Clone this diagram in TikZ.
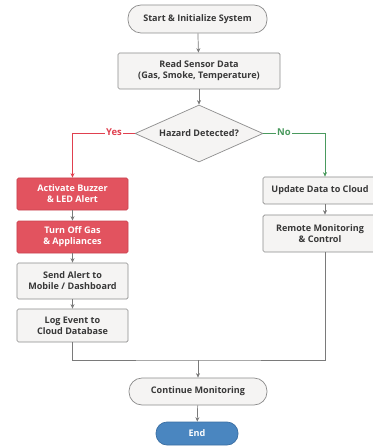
\documentclass[tikz,border=0pt]{standalone}
\usepackage{fontspec}
\setmainfont{Open Sans}
\usetikzlibrary{shapes.geometric,arrows.meta}
\definecolor{boxfill}{HTML}{F5F4F3}
\definecolor{boxline}{HTML}{8C8C8C}
\definecolor{redfill}{HTML}{E2535F}
\definecolor{redline}{HTML}{C94450}
\definecolor{yesred}{HTML}{E0404F}
\definecolor{nogreen}{HTML}{4A9A5E}
\definecolor{endfill}{HTML}{4A86C0}
\definecolor{endline}{HTML}{3A6EA2}
\definecolor{linegray}{HTML}{7A7A7A}
\definecolor{txt}{HTML}{383838}
\begin{document}
\begin{tikzpicture}[x=1bp,y=-1bp,
  font=\fontsize{9.1}{11}\selectfont\bfseries,
  base/.style={draw=boxline,fill=boxfill,line width=0.7bp,text=txt,align=center,inner sep=0},
  procbox/.style={base,rectangle,rounded corners=1.5bp},
  termbox/.style={base,rectangle,rounded corners=13bp},
  redbox/.style={procbox,fill=redfill,draw=redline,text=white},
  endbox/.style={base,rectangle,rounded corners=11bp,fill=endfill,draw=endline,text=white},
  decbox/.style={base,diamond,aspect=2.25},
  conn/.style={draw=linegray,line width=0.7bp},
  arr/.style={conn,-{Stealth[length=4.5bp,width=4bp]}},
  lbl/.style={fill=white,inner sep=1.5bp,font=\fontsize{9.5}{10}\selectfont\bfseries}
]
\useasboundingbox (0,0) rectangle (372,446);
\node[termbox,minimum width=139bp,minimum height=28bp] (start) at (197.5,19) {Start \& Initialize System};
\node[procbox,minimum width=162bp,minimum height=36bp] (read) at (199,71) {Read Sensor Data\\(Gas, Smoke, Temperature)};
\node[decbox,minimum width=128bp,minimum height=57bp] (dia) at (199,133.5) {Hazard Detected?};
\node[redbox,minimum width=111bp,minimum height=32bp] (act) at (72.5,194) {Activate Buzzer\\\& LED Alert};
\node[redbox,minimum width=111bp,minimum height=32bp] (turn) at (72.5,237) {Turn Off Gas\\\& Appliances};
\node[procbox,minimum width=111bp,minimum height=36bp] (send) at (72.5,281) {Send Alert to\\Mobile / Dashboard};
\node[procbox,minimum width=111bp,minimum height=33bp] (log) at (72.5,325.5) {Log Event to\\Cloud Database};
\node[procbox,minimum width=114bp,minimum height=27bp] (upd) at (320,190.5) {Update Data to Cloud};
\node[procbox,minimum width=114bp,minimum height=37bp] (rem) at (320,233.5) {Remote Monitoring\\\& Control};
\node[termbox,minimum width=138bp,minimum height=27bp] (cont) at (198,391.5) {Continue Monitoring};
\node[endbox,minimum width=82bp,minimum height=23bp] (end) at (197,433.5) {End};
\coordinate (m) at (198,360);

\draw[arr] (start) -- (read);
\draw[arr] (read) -- (dia);
\draw[arr,draw=yesred] (dia.west) -| (act.north);
\node[lbl,text=yesred] (yes) at (114,132.5) {Yes};
\draw[arr,draw=nogreen] (dia.east) -| ([xshift=5bp]upd.north);
\node[lbl,text=nogreen] (no) at (284,132.5) {No};
\draw[arr] (act) -- (turn);
\draw[arr] (turn) -- (send);
\draw[arr] (send) -- (log);
\draw[arr] ([xshift=5bp]upd.south) -- ([xshift=5bp]rem.north);
\draw[conn] (log.south) |- (m) -| ([xshift=5bp]rem.south);
\draw[arr] (m) -- (cont);
\draw[arr] (cont) -- (end);
\end{tikzpicture}
\end{document}
